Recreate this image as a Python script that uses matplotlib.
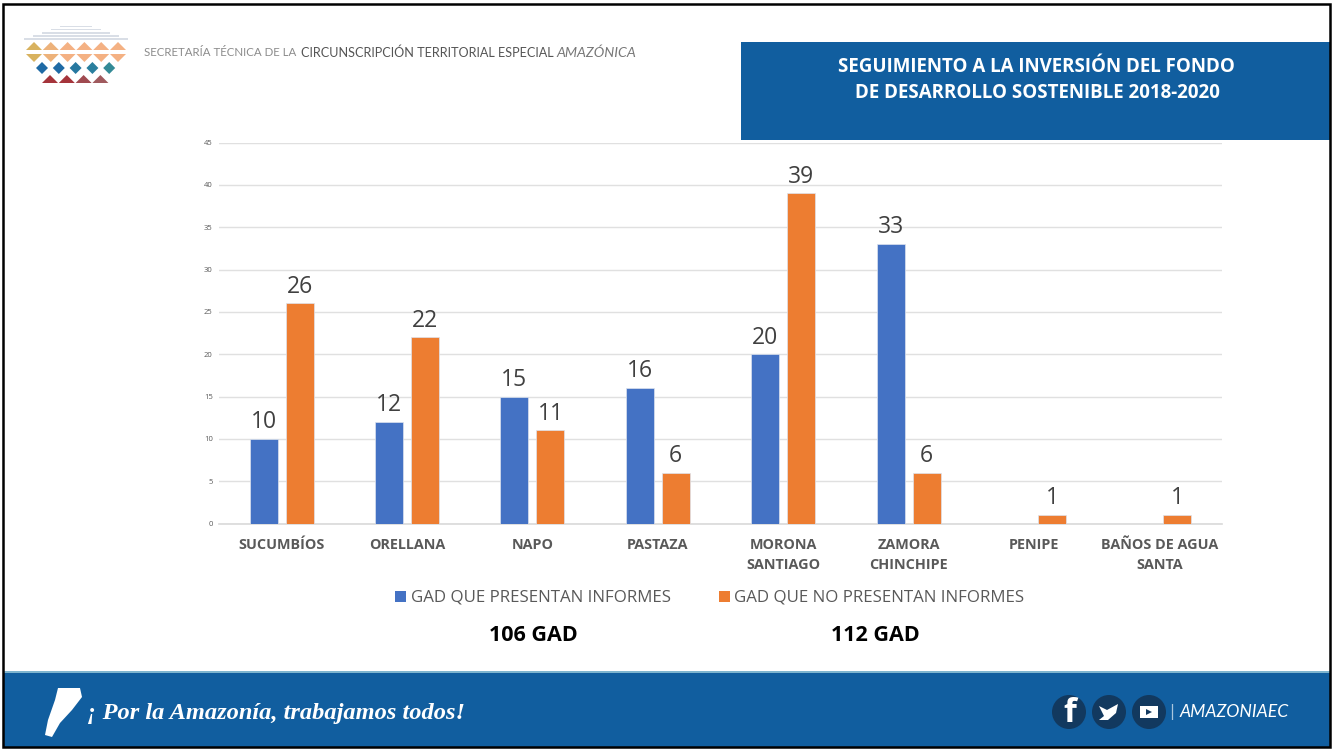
import matplotlib
matplotlib.use("Agg")
import matplotlib.pyplot as plt
from matplotlib.patches import Polygon, Rectangle, Circle

categories = ["SUCUMBÍOS", "ORELLANA", "NAPO", "PASTAZA", "MORONA\nSANTIAGO",
              "ZAMORA\nCHINCHIPE", "PENIPE", "BAÑOS DE AGUA\nSANTA"]
presentan = [10, 12, 15, 16, 20, 33, None, None]
no_presentan = [26, 22, 11, 6, 39, 6, 1, 1]
series_names = ["GAD QUE PRESENTAN INFORMES", "GAD QUE NO PRESENTAN INFORMES"]
y_ticks = [0, 5, 10, 15, 20, 25, 30, 35, 40, 45]
totals = ["106 GAD", "112 GAD"]
title_lines = ["SEGUIMIENTO A LA INVERSIÓN DEL FONDO", "DE DESARROLLO SOSTENIBLE 2018-2020"]

BLUE, ORANGE = "#4472C4", "#ED7D31"
BAND = "#115E9F"
FONT = "Open Sans"
W, H = 1333, 749

fig = plt.figure(figsize=(W / 100, H / 100), dpi=100, facecolor="white")

# page-decoration layer in pixel coordinates
bg = fig.add_axes([0, 0, 1, 1], zorder=0)
bg.set_xlim(0, W); bg.set_ylim(H, 0); bg.axis("off")
bg.add_patch(Rectangle((741, 42), 589, 98, fc=BAND, ec="none"))
bg.text(1036, 67, title_lines[0], color="white", fontsize=13.5, fontweight="bold",
        family=FONT, ha="center", va="center")
bg.text(1037, 93, title_lines[1], color="white", fontsize=13.5, fontweight="bold",
        family=FONT, ha="center", va="center")
bg.add_patch(Rectangle((3, 671), 1327, 2, fc="#7FB5CF", ec="none"))
bg.add_patch(Rectangle((3, 673), 1327, 74, fc=BAND, ec="none"))
bg.add_patch(Rectangle((3, 4), 1327, 743, fc="none", ec="black", lw=1.8))

# logo
for y0, h in [(26, 1), (29, 1), (32, 1.5), (35, 1.5), (38, 1.5)]:
    half = 16 + (y0 - 26) * 3.0
    bg.add_patch(Rectangle((76 - half, y0), 2 * half, h, fc="#D9DEE6", ec="none"))
tops = ["#D8B25F", "#EDB27A", "#F4B183", "#F4B183", "#F4B183", "#F4B183"]
for i, c in enumerate(tops):
    cx = 34 + i * 16.8
    bg.add_patch(Polygon([(cx - 8, 50), (cx + 8, 50), (cx, 42)], fc=c, ec="none"))
    bg.add_patch(Polygon([(cx - 8, 54), (cx + 8, 54), (cx, 62)], fc=c, ec="none"))
for i, c in enumerate(["#1F6AA5", "#1F6AA5", "#2678A0", "#2A7F9E", "#338A96"]):
    cx = 42 + i * 16.8
    bg.add_patch(Polygon([(cx - 6, 68), (cx, 62), (cx + 6, 68), (cx, 74)], fc=c, ec="none"))
for i, c in enumerate(["#A5343B", "#A5343B", "#A04A50", "#A05A5E"]):
    cx = 50 + i * 16.8
    bg.add_patch(Polygon([(cx - 8, 83), (cx + 8, 83), (cx, 75)], fc=c, ec="none"))
bg.text(144, 53, "SECRETARÍA TÉCNICA DE LA", color="#8C8C8C", fontsize=8.3, family="Lato",
        ha="left", va="center")
bg.text(301, 53, "CIRCUNSCRIPCIÓN TERRITORIAL ESPECIAL", color="#555555", fontsize=9.05,
        family="Lato", ha="left", va="center")
bg.text(556, 53, "AMAZÓNICA", color="#777777", fontsize=10.2, family="Lato", style="italic",
        ha="left", va="center")

# footer
bg.add_patch(Polygon([(58, 688), (80, 688), (82, 697), (72, 710), (60, 723), (52, 737),
                      (45, 735), (48, 720), (55, 700)], fc="white", ec="none"))
bg.text(87, 713, "¡ Por la Amazonía, trabajamos todos!", color="white", fontsize=17.6,
        family="Liberation Serif", style="italic", fontweight="bold", ha="left", va="center")
for cx in (1069, 1109, 1149):
    bg.add_patch(Circle((cx, 712), 17, fc="#12395F", ec="none"))
bg.text(1070, 714, "f", color="white", fontsize=24, fontweight="bold", family=FONT,
        ha="center", va="center")
bg.add_patch(Polygon([(1099, 706), (1107, 710), (1118, 704), (1116, 713), (1108, 720),
                      (1099, 720), (1104, 716)], fc="white", ec="none"))
bg.add_patch(Rectangle((1140, 706), 18, 12, fc="white", ec="none"))
bg.add_patch(Polygon([(1146, 709), (1146, 715), (1152, 712)], fc="#12395F", ec="none"))
bg.text(1172, 712, "|", color="#A9C6DE", fontsize=11, ha="center", va="center")
bg.text(1180, 712, "AMAZONIAEC", color="white", fontsize=12.7, family="Lato", style="italic",
        ha="left", va="center")

# chart
ax = fig.add_axes([219 / W, 1 - 523.5 / H, (1222 - 219) / W, (523.5 - 142.5) / H], zorder=1)
ax.patch.set_alpha(0)
offset, width = 0.1435, 0.223
for i in range(len(categories)):
    for vals, c, sign in ((presentan, BLUE, -1), (no_presentan, ORANGE, 1)):
        v = vals[i]
        if v is None:
            continue
        ax.bar(i + sign * offset, v, width, color=c, edgecolor="#DDE3EE", linewidth=0.5, zorder=3)
        ax.text(i + sign * offset, v + 0.55, str(v), ha="center", va="bottom", fontsize=16.5,
                color="#404040", family=FONT, zorder=4)
ax.set_xlim(-0.5, len(categories) - 0.5)
ax.set_ylim(0, 45)
ax.set_yticks(y_ticks)
ax.set_xticks(range(len(categories)))
ax.set_xticklabels(categories, fontsize=10.4, fontweight="bold", color="#595959", family=FONT,
                   linespacing=1.55)
ax.tick_params(axis="x", length=0, pad=10.5)
ax.tick_params(axis="y", length=0, pad=4.5, labelsize=5.5, labelcolor="#595959")
for lab in ax.get_yticklabels():
    lab.set_family(FONT)
ax.grid(axis="y", color="#E0E0E0", linewidth=1, zorder=0)
for s in ("top", "right", "left"):
    ax.spines[s].set_visible(False)
ax.spines["bottom"].set_color("#D9D9D9")
ax.spines["bottom"].set_linewidth(1.2)

# legend and totals
bg.add_patch(Rectangle((395, 591), 11, 11, fc=BLUE, ec="none"))
bg.add_patch(Rectangle((719, 591), 11, 11, fc=ORANGE, ec="none"))
bg.text(411, 597, series_names[0], fontsize=12.2, color="#595959", family=FONT, ha="left", va="center")
bg.text(734, 597, series_names[1], fontsize=12.2, color="#595959", family=FONT, ha="left", va="center")
bg.text(533, 635.5, totals[0], fontsize=15.5, fontweight="bold", color="black", family=FONT, ha="center", va="center")
bg.text(875, 635.5, totals[1], fontsize=15.5, fontweight="bold", color="black", family=FONT, ha="center", va="center")

fig.savefig("out.png", dpi=100)
